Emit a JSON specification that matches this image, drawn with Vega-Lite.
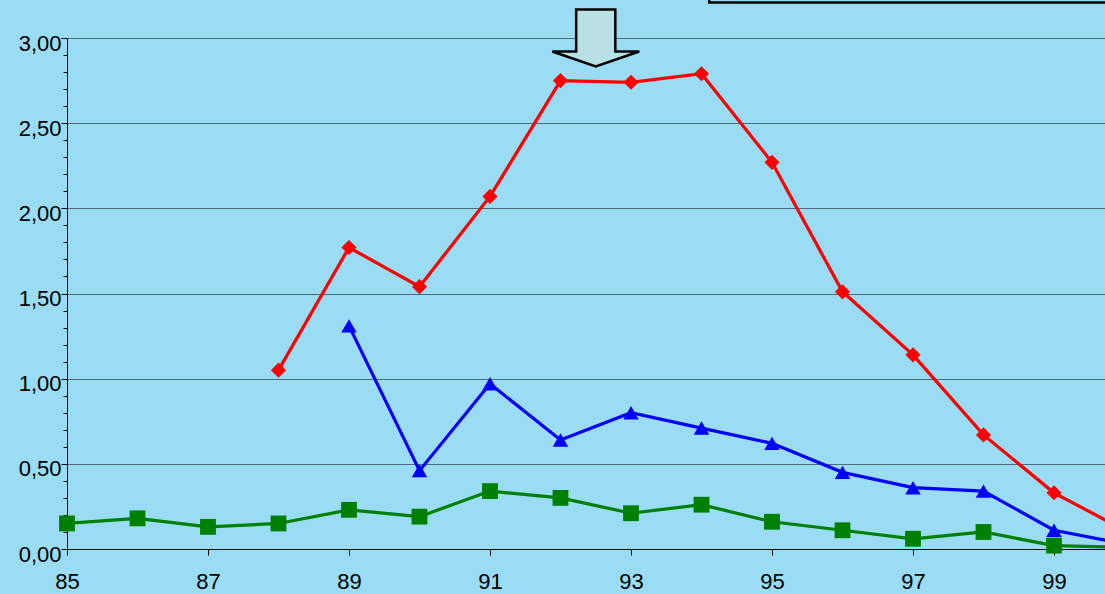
{
  "$schema": "https://vega.github.io/schema/vega-lite/v6.json",
  "width": 1057.5,
  "height": 511,
  "autosize": "none",
  "padding": {"left": 67, "top": 38, "right": 0, "bottom": 45},
  "background": "#99DCF4",
  "config": {"view": {"stroke": null}},
  "datasets": {
    "series": [
      {"series": "Serie 1", "year": 88, "value": 1.05},
      {"series": "Serie 1", "year": 89, "value": 1.77},
      {"series": "Serie 1", "year": 90, "value": 1.54},
      {"series": "Serie 1", "year": 91, "value": 2.07},
      {"series": "Serie 1", "year": 92, "value": 2.75},
      {"series": "Serie 1", "year": 93, "value": 2.74},
      {"series": "Serie 1", "year": 94, "value": 2.79},
      {"series": "Serie 1", "year": 95, "value": 2.27},
      {"series": "Serie 1", "year": 96, "value": 1.51},
      {"series": "Serie 1", "year": 97, "value": 1.14},
      {"series": "Serie 1", "year": 98, "value": 0.67},
      {"series": "Serie 1", "year": 99, "value": 0.33},
      {"series": "Serie 1", "year": 100, "value": 0.11},
      {"series": "Serie 2", "year": 89, "value": 1.31},
      {"series": "Serie 2", "year": 90, "value": 0.46},
      {"series": "Serie 2", "year": 91, "value": 0.97},
      {"series": "Serie 2", "year": 92, "value": 0.64},
      {"series": "Serie 2", "year": 93, "value": 0.8},
      {"series": "Serie 2", "year": 94, "value": 0.71},
      {"series": "Serie 2", "year": 95, "value": 0.62},
      {"series": "Serie 2", "year": 96, "value": 0.45},
      {"series": "Serie 2", "year": 97, "value": 0.36},
      {"series": "Serie 2", "year": 98, "value": 0.34},
      {"series": "Serie 2", "year": 99, "value": 0.11},
      {"series": "Serie 2", "year": 100, "value": 0.03},
      {"series": "Serie 3", "year": 85, "value": 0.15},
      {"series": "Serie 3", "year": 86, "value": 0.18},
      {"series": "Serie 3", "year": 87, "value": 0.13},
      {"series": "Serie 3", "year": 88, "value": 0.15},
      {"series": "Serie 3", "year": 89, "value": 0.23},
      {"series": "Serie 3", "year": 90, "value": 0.19},
      {"series": "Serie 3", "year": 91, "value": 0.34},
      {"series": "Serie 3", "year": 92, "value": 0.3},
      {"series": "Serie 3", "year": 93, "value": 0.21},
      {"series": "Serie 3", "year": 94, "value": 0.26},
      {"series": "Serie 3", "year": 95, "value": 0.16},
      {"series": "Serie 3", "year": 96, "value": 0.11},
      {"series": "Serie 3", "year": 97, "value": 0.06},
      {"series": "Serie 3", "year": 98, "value": 0.1},
      {"series": "Serie 3", "year": 99, "value": 0.02},
      {"series": "Serie 3", "year": 100, "value": 0.01}
    ],
    "arrow": [{"year": 92.5, "value": 3.0}],
    "box": [{"x1": 94.11, "x2": 101, "y1": 3.208, "y2": 3.6}]
  },
  "layer": [
    {
      "data": {"name": "series"},
      "mark": {"type": "line", "strokeWidth": 3.2},
      "encoding": {
        "x": {
          "field": "year", "type": "quantitative",
          "scale": {"domain": [85, 100], "nice": false, "zero": false},
          "axis": {
            "title": null, "values": [85, 87, 89, 91, 93, 95, 97, 99], "tickCount": 100, "format": "d",
            "grid": false, "tickSize": 6, "tickColor": "black", "domainColor": "black",
            "labelFont": "Liberation Sans", "labelFontSize": 22, "labelColor": "black",
            "labelPadding": 16, "labelOverlap": false, "labelBound": false, "labelFlush": false
          }
        },
        "y": {
          "field": "value", "type": "quantitative",
          "scale": {"domain": [0, 3], "nice": false},
          "axis": {
            "title": null, "tickCount": 100,
            "values": [0, 0.1, 0.2, 0.3, 0.4, 0.5, 0.6, 0.7, 0.8, 0.9, 1, 1.1, 1.2, 1.3, 1.4, 1.5, 1.6, 1.7, 1.8, 1.9, 2, 2.1, 2.2, 2.3, 2.4, 2.5, 2.6, 2.7, 2.8, 2.9, 3],
            "labelExpr": "abs(datum.value*2 - round(datum.value*2)) < 0.001 ? replace(format(datum.value, '.2f'), '.', ',') : ''",
            "grid": true, "gridColor": "#4f6a78", "gridWidth": 1,
            "gridOpacity": {"condition": {"test": "abs(datum.value*2 - round(datum.value*2)) < 0.001", "value": 1}, "value": 0},
            "tickSize": {"condition": {"test": "abs(datum.value*2 - round(datum.value*2)) < 0.001", "value": 6}, "value": 4},
            "tickColor": "black", "domainColor": "black",
            "labelFont": "Liberation Sans", "labelFontSize": 22, "labelColor": "black",
            "labelPadding": 0, "labelOverlap": false, "labelBound": false, "labelFlush": false,
            "labelBaseline": "middle", "labelOffset": 5
          }
        },
        "color": {
          "field": "series", "type": "nominal",
          "scale": {"domain": ["Serie 1", "Serie 2", "Serie 3"], "range": ["#FF0000", "#0000FF", "#008000"]},
          "legend": null
        }
      }
    },
    {
      "data": {"name": "series"},
      "mark": {"type": "point", "filled": true, "opacity": 1},
      "encoding": {
        "x": {"field": "year", "type": "quantitative"},
        "y": {"field": "value", "type": "quantitative"},
        "color": {"field": "series", "type": "nominal", "legend": null},
        "shape": {
          "field": "series", "type": "nominal",
          "scale": {"domain": ["Serie 1", "Serie 2", "Serie 3"], "range": ["diamond", "triangle-up", "square"]},
          "legend": null
        },
        "size": {
          "field": "series", "type": "nominal",
          "scale": {"domain": ["Serie 1", "Serie 2", "Serie 3"], "range": [230, 250, 215]},
          "legend": null
        }
      }
    },
    {
      "data": {"name": "arrow"},
      "mark": {
        "type": "point", "filled": true, "opacity": 1, "size": 7569,
        "shape": "M -0.45 -0.655 L 0.45 -0.655 L 0.45 0.31 L 1 0.31 L 0 0.655 L -1 0.31 L -0.45 0.31 Z",
        "fill": "#B9E0E4", "stroke": "black", "strokeWidth": 2.5
      },
      "encoding": {
        "x": {"field": "year", "type": "quantitative"},
        "y": {"field": "value", "type": "quantitative"}
      }
    },
    {
      "data": {"name": "box"},
      "mark": {"type": "rect", "fill": "#99DCF4", "stroke": "black", "strokeWidth": 2.5},
      "encoding": {
        "x": {"field": "x1", "type": "quantitative"},
        "x2": {"field": "x2"},
        "y": {"field": "y1", "type": "quantitative"},
        "y2": {"field": "y2"}
      }
    }
  ]
}
